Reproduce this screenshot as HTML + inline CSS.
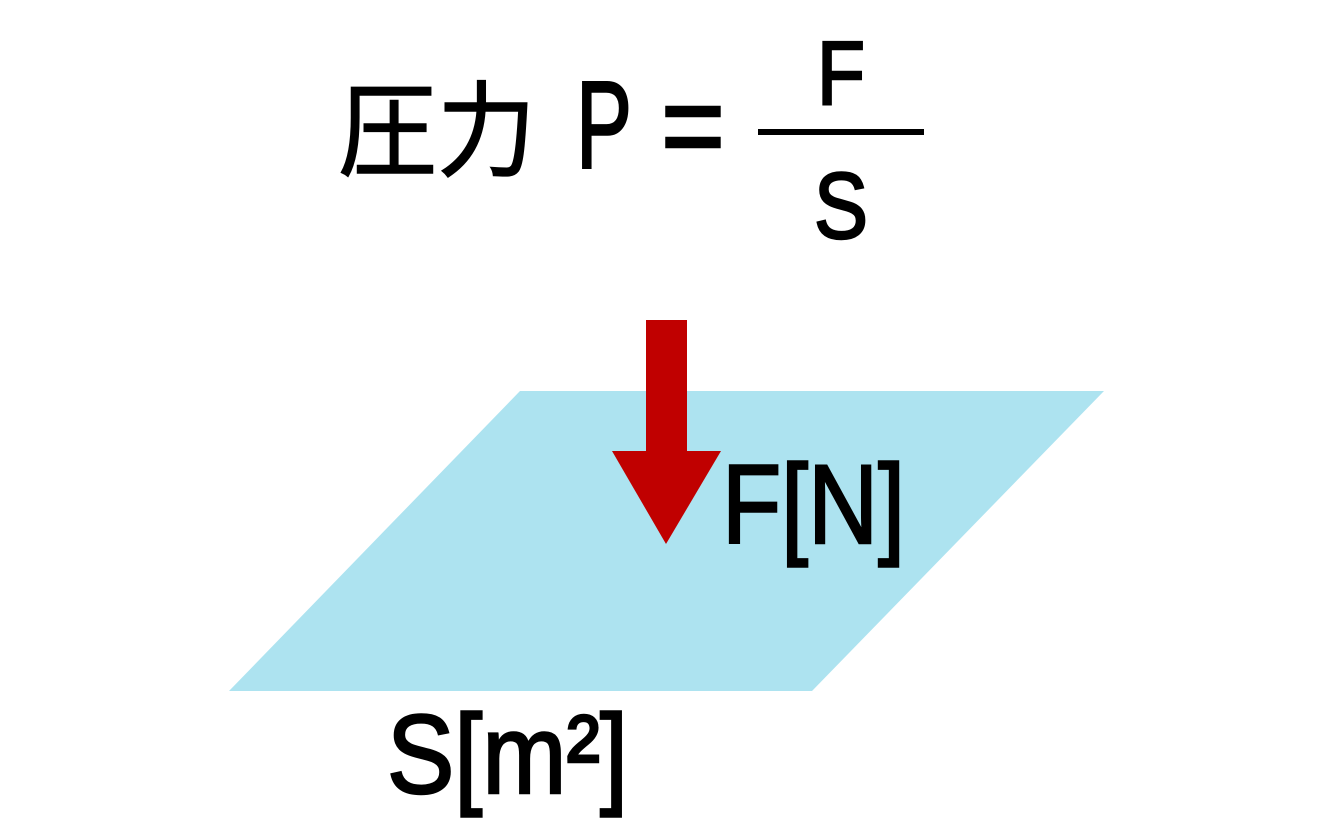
<!DOCTYPE html>
<html><head><meta charset="utf-8"><style>html,body{margin:0;padding:0;background:#fff}svg{display:block}</style></head>
<body>
<svg width="1333" height="833" viewBox="0 0 1333 833" xmlns="http://www.w3.org/2000/svg">
<polygon points="520,391 1104,391 812,691 229,691" fill="#ade3f0"/>
<rect x="646" y="320" width="41" height="133" fill="#c00000"/>
<polygon points="612,451 721,451 666,544" fill="#c00000"/>
<g font-family="'Liberation Sans','Noto Sans CJK JP',sans-serif" fill="#000">
<text x="338" y="168" font-size="104" textLength="198" lengthAdjust="spacingAndGlyphs" stroke="#000" stroke-width="1.5">圧力</text>
<g stroke="#000" stroke-width="2.5">
<text x="576" y="168" font-size="124" textLength="56" lengthAdjust="spacingAndGlyphs">P</text>
<text x="661" y="168" font-size="124" textLength="64" lengthAdjust="spacingAndGlyphs">=</text>
<text x="817" y="104" font-size="90" textLength="48" lengthAdjust="spacingAndGlyphs">F</text>
<text x="814" y="238" font-size="94" textLength="54" lengthAdjust="spacingAndGlyphs">S</text>
<text x="722" y="543" font-size="112" textLength="183" lengthAdjust="spacingAndGlyphs">F[N]</text>
<text x="387" y="793" font-size="112" textLength="241" lengthAdjust="spacingAndGlyphs">S[m²]</text>
</g>
<rect x="758" y="129" width="166" height="6"/>
</g>
</svg>
</body></html>
